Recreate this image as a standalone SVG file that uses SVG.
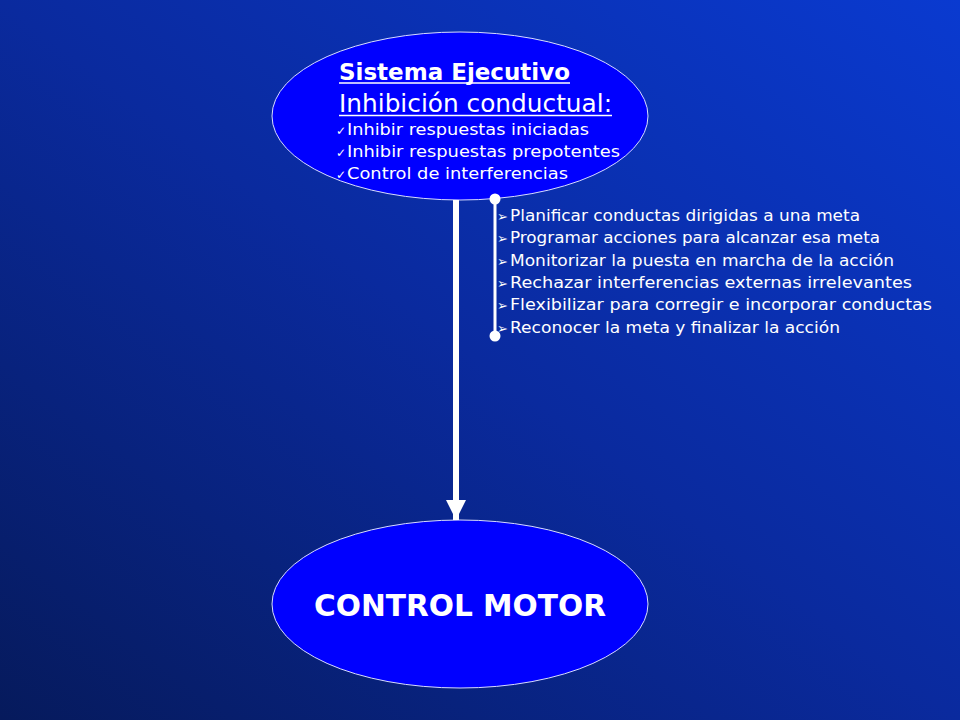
<svg xmlns="http://www.w3.org/2000/svg" width="960" height="720" viewBox="0 0 960 720">
<defs>
<linearGradient id="bg" x1="0" y1="1" x2="1" y2="0">
<stop offset="0" stop-color="#061a5c"/>
<stop offset="0.5" stop-color="#0a2a9e"/>
<stop offset="1" stop-color="#0a3ad0"/>
</linearGradient>
<marker id="ah" viewBox="0 0 10 10" refX="10" refY="5" markerWidth="3.4" markerHeight="3.4" markerUnits="strokeWidth" orient="auto">
<path d="M0,0 L10,5 L0,10 Z" fill="#ffffff"/>
</marker>
<style>
.node{fill:#0000ff;stroke:#d8dcff;stroke-width:1}
.t{fill:#ffffff;font-family:"DejaVu Sans","Noto Sans",sans-serif}
.ul{stroke:#ffffff;stroke-width:1.5}
.sm{font-size:16px}
.li{font-size:16px}
.chk{font-size:12px}
.bul{font-size:13px}
</style>
</defs>
<rect width="960" height="720" fill="url(#bg)"/>
<g id="sistema-ejecutivo">
<ellipse class="node" cx="460" cy="116" rx="188" ry="84"/>
<text class="t" x="339" y="80" font-size="23" font-weight="bold" textLength="231" lengthAdjust="spacingAndGlyphs">Sistema Ejecutivo</text>
<line class="ul" x1="339" y1="83" x2="570" y2="83"/>
<text class="t" x="339" y="112" font-size="25" textLength="273" lengthAdjust="spacingAndGlyphs">Inhibición conductual:</text>
<line class="ul" x1="339" y1="115.5" x2="612" y2="115.5"/>
<text class="t sm" x="336" y="135"><tspan class="chk">✓</tspan><tspan x="347" textLength="242" lengthAdjust="spacingAndGlyphs">Inhibir respuestas iniciadas</tspan></text>
<text class="t sm" x="336" y="157"><tspan class="chk">✓</tspan><tspan x="347" textLength="273" lengthAdjust="spacingAndGlyphs">Inhibir respuestas prepotentes</tspan></text>
<text class="t sm" x="336" y="179"><tspan class="chk">✓</tspan><tspan x="347" textLength="221" lengthAdjust="spacingAndGlyphs">Control de interferencias</tspan></text>
</g>
<g id="funciones">
<text class="t li" x="497" y="221"><tspan class="bul">➢</tspan><tspan x="510" textLength="350" lengthAdjust="spacingAndGlyphs">Planificar conductas dirigidas a una meta</tspan></text>
<text class="t li" x="497" y="243"><tspan class="bul">➢</tspan><tspan x="510" textLength="370" lengthAdjust="spacingAndGlyphs">Programar acciones para alcanzar esa meta</tspan></text>
<text class="t li" x="497" y="266"><tspan class="bul">➢</tspan><tspan x="510" textLength="384" lengthAdjust="spacingAndGlyphs">Monitorizar la puesta en marcha de la acción</tspan></text>
<text class="t li" x="497" y="288"><tspan class="bul">➢</tspan><tspan x="510" textLength="402" lengthAdjust="spacingAndGlyphs">Rechazar interferencias externas irrelevantes</tspan></text>
<text class="t li" x="497" y="310"><tspan class="bul">➢</tspan><tspan x="510" textLength="422" lengthAdjust="spacingAndGlyphs">Flexibilizar para corregir e incorporar conductas</tspan></text>
<text class="t li" x="497" y="333"><tspan class="bul">➢</tspan><tspan x="510" textLength="330" lengthAdjust="spacingAndGlyphs">Reconocer la meta y finalizar la acción</tspan></text>
</g>
<g id="control-motor">
<ellipse class="node" cx="460" cy="604" rx="188" ry="84"/>
<text class="t" x="314" y="616" font-size="31" font-weight="bold" textLength="292" lengthAdjust="spacingAndGlyphs">CONTROL MOTOR</text>
</g>
<g id="connectors">
<line x1="456" y1="200" x2="456" y2="520" stroke="#ffffff" stroke-width="6" marker-end="url(#ah)"/>
<line x1="495" y1="199" x2="495" y2="336" stroke="#ffffff" stroke-width="3"/>
<circle cx="495" cy="199" r="5.5" fill="#ffffff"/>
<circle cx="495" cy="336" r="5.5" fill="#ffffff"/>
</g>
</svg>
